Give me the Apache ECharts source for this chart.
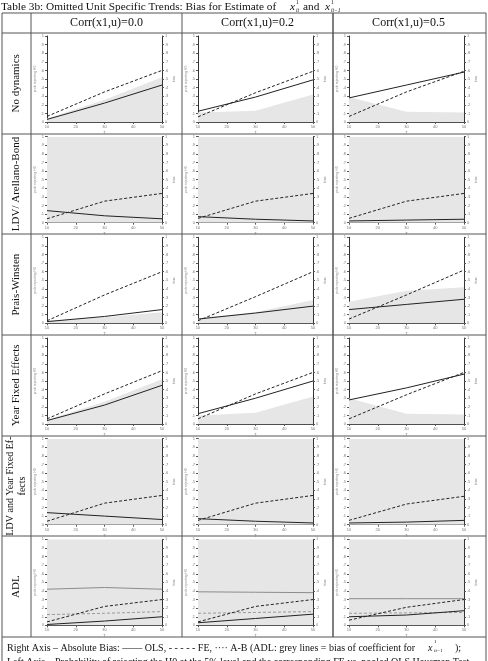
<!DOCTYPE html>
<html>
<head>
<meta charset="utf-8">
<script src="https://cdn.jsdelivr.net/npm/echarts@6/dist/echarts.min.js"></script>
<style>
  html, body { margin: 0; padding: 0; background: #fff; }
  #chart { width: 488px; height: 661px; }
</style>
</head>
<body>
<div id="chart"></div>
<script>
// sample sizes (T) on the x axis
const T = [10, 30, 50];

const rowLabels = [
  'No dynamics',
  'LDV/ Arellano-Bond',
  'Prais-Winsten',
  'Year Fixed Effects',
  'LDV and Year Fixed Ef-\nfects',
  'ADL'
];
const colLabels = ['Corr(x1,u)=0.0', 'Corr(x1,u)=0.2', 'Corr(x1,u)=0.5'];

// left axis: probability of rejecting H0 (grey area), [row][col] -> values at T
const probReject = [
  [[0.04, 0.26, 0.52], [0.11, 0.13, 0.32], [0.29, 0.12, 0.11]],
  [[1.0, 1.0, 1.0], [1.0, 1.0, 1.0], [1.0, 1.0, 1.0]],
  [[0.03, 0.07, 0.13], [0.06, 0.13, 0.27], [0.25, 0.38, 0.42]],
  [[0.05, 0.26, 0.52], [0.10, 0.13, 0.32], [0.30, 0.12, 0.11]],
  [[1.0, 1.0, 1.0], [1.0, 1.0, 1.0], [1.0, 1.0, 1.0]],
  [[1.0, 1.0, 1.0], [1.0, 1.0, 1.0], [1.0, 1.0, 1.0]]
];

// right axis: absolute bias, OLS (solid)
const olsBias = [
  [[0.03, 0.22, 0.43], [0.125, 0.29, 0.49], [0.28, 0.43, 0.58]],
  [[0.14, 0.08, 0.045], [0.07, 0.04, 0.02], [0.02, 0.03, 0.04]],
  [[0.02, 0.08, 0.16], [0.05, 0.12, 0.20], [0.16, 0.22, 0.28]],
  [[0.04, 0.22, 0.45], [0.12, 0.30, 0.50], [0.28, 0.42, 0.58]],
  [[0.14, 0.10, 0.06], [0.07, 0.04, 0.02], [0.02, 0.03, 0.05]],
  [[0.01, 0.05, 0.10], [0.03, 0.08, 0.13], [0.10, 0.12, 0.17]]
];

// right axis: absolute bias, FE (dashed)
const feBias = [
  [[0.065, 0.35, 0.60], [0.06, 0.34, 0.59], [0.065, 0.35, 0.59]],
  [[0.045, 0.25, 0.34], [0.05, 0.25, 0.34], [0.05, 0.25, 0.34]],
  [[0.03, 0.33, 0.60], [0.03, 0.31, 0.60], [0.05, 0.33, 0.62]],
  [[0.06, 0.35, 0.62], [0.06, 0.35, 0.60], [0.06, 0.34, 0.60]],
  [[0.04, 0.25, 0.34], [0.05, 0.25, 0.34], [0.05, 0.24, 0.33]],
  [[0.04, 0.22, 0.30], [0.04, 0.22, 0.30], [0.06, 0.21, 0.30]]
];

// ADL only: bias of coefficient for lagged x (grey lines)
const adlOlsLag = [[0.42, 0.44, 0.42], [0.39, 0.385, 0.38], [0.31, 0.31, 0.31]];
const adlFeLag = [[0.125, 0.14, 0.16], [0.14, 0.15, 0.16], [0.14, 0.145, 0.15]];

const tableLeft = 2;
const tableRight = 486;
const headTop = 13;
const headBottom = 33;
const colX = [31, 182, 333];
const rowH = 100.67;
const footTop = 637;

const chart = echarts.init(document.getElementById('chart'));

const serif = 'Liberation Serif';
const grids = [], xAxes = [], yAxes = [], series = [], graphic = [];

const tickFmt = v => (v === 0 ? '0' : v === 1 ? '1' : String(+v.toFixed(1)).replace('0.', '.'));
const smallLabel = { fontSize: 4, color: '#777', fontFamily: 'Liberation Sans' };

for (let r = 0; r < 6; r++) {
  for (let c = 0; c < 3; c++) {
    const idx = r * 3 + c;
    grids.push({ left: colX[c] + 16, top: headBottom + r * rowH + 3, width: 115, height: 86 });

    xAxes.push({
      type: 'value', gridIndex: idx, min: 10, max: 50, interval: 10,
      name: 'T', nameLocation: 'middle', nameGap: 9,
      nameTextStyle: { fontSize: 4, color: '#777' },
      axisLine: { lineStyle: { color: '#333', width: 1 } },
      axisTick: { length: 2, lineStyle: { color: '#555' } },
      axisLabel: Object.assign({ margin: 3 }, smallLabel),
      splitLine: { show: false }
    });
    xAxes.push({
      type: 'value', gridIndex: idx, position: 'top', min: 10, max: 50,
      axisLine: { show: true, lineStyle: { color: '#555', width: 0.8 } },
      axisTick: { show: false }, axisLabel: { show: false }, splitLine: { show: false }
    });
    yAxes.push({
      type: 'value', gridIndex: idx, position: 'left', min: 0, max: 1, interval: 0.1,
      name: 'prob rejecting H0', nameLocation: 'middle', nameGap: 8, nameRotate: 90,
      nameTextStyle: { fontSize: 3.5, color: '#888' },
      axisLine: { show: true, lineStyle: { color: '#333', width: 1 } },
      axisTick: { show: true, length: 2, lineStyle: { color: '#555' } },
      axisLabel: Object.assign({ margin: 3, formatter: tickFmt }, smallLabel),
      splitLine: { show: false }
    });
    yAxes.push({
      type: 'value', gridIndex: idx, position: 'right', min: 0, max: 1, interval: 0.1,
      name: 'bias', nameLocation: 'middle', nameGap: 9, nameRotate: 90,
      nameTextStyle: { fontSize: 3.5, color: '#888' },
      axisLine: { show: true, lineStyle: { color: '#333', width: 1 } },
      axisTick: { show: true, length: 2, lineStyle: { color: '#555' } },
      axisLabel: Object.assign({ margin: 3, formatter: tickFmt }, smallLabel),
      splitLine: { show: false }
    });

    const pts = arr => T.map((t, i) => [t, arr[i]]);

    series.push({
      type: 'line', xAxisIndex: idx * 2, yAxisIndex: idx * 2,
      data: pts(probReject[r][c]), symbol: 'none', silent: true,
      lineStyle: { width: 0 }, areaStyle: { color: '#e6e6e6', opacity: 1 }, z: 1
    });
    if (r === 5) {
      series.push({
        type: 'line', xAxisIndex: idx * 2, yAxisIndex: idx * 2 + 1,
        data: pts(adlOlsLag[c]), symbol: 'none',
        lineStyle: { color: '#8c8c8c', width: 1 }, z: 3
      });
      series.push({
        type: 'line', xAxisIndex: idx * 2, yAxisIndex: idx * 2 + 1,
        data: pts(adlFeLag[c]), symbol: 'none',
        lineStyle: { color: '#9a9a9a', width: 1, type: [3, 2] }, z: 3
      });
    }
    series.push({
      type: 'line', xAxisIndex: idx * 2, yAxisIndex: idx * 2 + 1,
      data: pts(olsBias[r][c]), symbol: 'none',
      lineStyle: { color: '#222', width: 1 }, z: 4
    });
    series.push({
      type: 'line', xAxisIndex: idx * 2, yAxisIndex: idx * 2 + 1,
      data: pts(feBias[r][c]), symbol: 'none',
      lineStyle: { color: '#222', width: 1, type: [3, 2] }, z: 4
    });
  }
}

// table frame
const ruleStyle = { stroke: '#555', lineWidth: 1 };
const hline = (y, x1, x2) => graphic.push({ type: 'line', shape: { x1: x1, y1: y, x2: x2, y2: y }, style: ruleStyle, silent: true });
const vline = (x, y1, y2) => graphic.push({ type: 'line', shape: { x1: x, y1: y1, x2: x, y2: y2 }, style: ruleStyle, silent: true });

hline(headTop, tableLeft, tableRight);
hline(headBottom, tableLeft, tableRight);
for (let r = 1; r <= 6; r++) hline(Math.round(headBottom + r * rowH), tableLeft, tableRight);
vline(tableLeft, headTop, 661);
vline(tableRight, headTop, 661);
colX.forEach(x => vline(x, headTop, footTop));
vline(colX[1] + 151, headTop, footTop);

// header and row labels
colLabels.forEach((t, c) => {
  graphic.push({
    type: 'text', x: colX[c] + 75.5, y: (headTop + headBottom) / 2,
    style: { text: t, font: '12px ' + serif, fill: '#111', align: 'center', verticalAlign: 'middle' }
  });
});
rowLabels.forEach((t, r) => {
  const twoLine = t.indexOf('\n') >= 0;
  graphic.push({
    type: 'text', x: 16, y: headBottom + r * rowH + rowH / 2, rotation: Math.PI / 2,
    style: { text: t, font: (twoLine ? '10px ' : '11px ') + serif, fill: '#111', align: 'center', verticalAlign: 'middle', lineHeight: 12 }
  });
});

// title with math
const titleFont = '11.3px ' + serif;
graphic.push({ type: 'text', x: 1, y: 2, style: { text: 'Table 3b: Omitted Unit Specific Trends: Bias for Estimate of', font: titleFont, fill: '#111' } });
graphic.push({ type: 'text', x: 290, y: 2, style: { text: 'x', font: 'italic ' + titleFont, fill: '#111' } });
graphic.push({ type: 'text', x: 296, y: 0, style: { text: '1', font: '5.5px ' + serif, fill: '#111' } });
graphic.push({ type: 'text', x: 296, y: 8, style: { text: 'it', font: 'italic 5.5px ' + serif, fill: '#111' } });
graphic.push({ type: 'text', x: 303, y: 2, style: { text: 'and', font: titleFont, fill: '#111' } });
graphic.push({ type: 'text', x: 325, y: 2, style: { text: 'x', font: 'italic ' + titleFont, fill: '#111' } });
graphic.push({ type: 'text', x: 331, y: 0, style: { text: '1', font: '5.5px ' + serif, fill: '#111' } });
graphic.push({ type: 'text', x: 331, y: 8, style: { text: 'it\u22121', font: 'italic 5.5px ' + serif, fill: '#111' } });

// footer legend
const footFont = '10px ' + serif;
graphic.push({ type: 'text', x: 7, y: 643, style: { text: 'Right Axis \u2013 Absolute Bias: \u2014\u2014 OLS, - - - - - FE, \u00b7\u00b7\u00b7\u00b7 A-B (ADL: grey lines = bias of coefficient for', font: footFont, fill: '#111' } });
graphic.push({ type: 'text', x: 428, y: 643, style: { text: 'x', font: 'italic ' + footFont, fill: '#111' } });
graphic.push({ type: 'text', x: 434, y: 639, style: { text: '1', font: '5px ' + serif, fill: '#111' } });
graphic.push({ type: 'text', x: 434, y: 648, style: { text: 'it\u22121', font: 'italic 5px ' + serif, fill: '#111' } });
graphic.push({ type: 'text', x: 455, y: 643, style: { text: ');', font: footFont, fill: '#111' } });
graphic.push({ type: 'text', x: 7, y: 657, style: { text: 'Left Axis \u2013 Probability of rejecting the H0 at the 5% level and the corresponding FE vs. pooled OLS Hausman Test', font: footFont, fill: '#111' } });

chart.setOption({
  animation: false,
  backgroundColor: '#fff',
  grid: grids,
  xAxis: xAxes,
  yAxis: yAxes,
  series: series,
  graphic: graphic
});

window.addEventListener('resize', () => chart.resize());
</script>
</body>
</html>
